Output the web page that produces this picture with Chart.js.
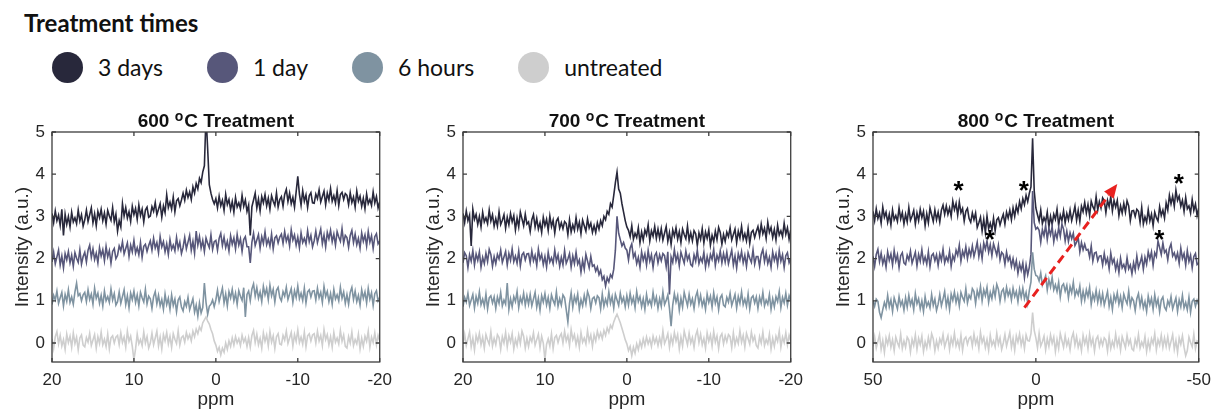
<!DOCTYPE html>
<html lang="en">
<head>
<meta charset="UTF-8">
<title>Treatment times</title>
<script src="https://cdn.jsdelivr.net/npm/chart.js"></script>
<style>
  html, body { margin: 0; padding: 0; background: #fff; width: 1219px; height: 417px; overflow: hidden; }
  .heading { position: absolute; left: 24px; top: 11px; font: bold 24px Lato, sans-serif; line-height: 24px; color: #111; }
  .legend { position: absolute; left: 52px; top: 52px; height: 31px; display: flex; align-items: center; font: 23px Lato, sans-serif; line-height: 23px; color: #111; }
  .legend .item { display: flex; align-items: center; margin-right: 44px; }
  .legend .dot { width: 31px; height: 31px; border-radius: 50%; margin-right: 15px; }
  .panel { position: absolute; top: 100px; width: 400px; height: 317px; }
</style>
</head>
<body>

<div class="heading">Treatment times</div>
<div class="legend" id="legend"></div>
<div class="panel" style="left:0px"><canvas id="c600"></canvas></div>
<div class="panel" style="left:411px"><canvas id="c700"></canvas></div>
<div class="panel" style="left:821px; width:398px"><canvas id="c800"></canvas></div>

<script>
const seriesNames = ['3 days', '1 day', '6 hours', 'untreated'];
const temperatures = [600, 700, 800];
const xTicksNarrow = [20, 10, 0, -10, -20];
const xTicksWide = [50, 0, -50];
const yTicks = [0, 1, 2, 3, 4, 5];

// 600 and 700 C: read every 0.2 ppm from 20 down to -20
const t600_3d = [
  3.07, 2.85, 3.13, 2.90, 3.03, 2.79, 3.17, 2.55, 3.05, 2.81, 3.00, 2.75, 3.10, 2.87, 2.97, 2.83, 3.15, 2.89, 3.04, 2.77,
  2.92, 3.15, 2.88, 3.04, 3.20, 2.85, 3.06, 2.78, 3.12, 2.97, 3.17, 2.90, 3.08, 2.82, 3.14, 3.01, 2.91, 3.21, 2.87, 3.05,
  2.65, 2.90, 2.75, 3.30, 3.01, 3.21, 2.96, 3.11, 2.88, 3.24, 3.04, 3.19, 2.93, 3.27, 3.02, 3.17, 2.87, 3.15, 3.22, 2.98,
  3.01, 3.23, 3.12, 3.33, 3.04, 3.17, 3.30, 2.98, 3.25, 3.09, 3.51, 3.21, 3.34, 3.17, 3.46, 3.11, 3.37, 3.42, 3.25, 3.39,
  3.55, 3.38, 3.62, 3.45, 3.58, 3.40, 3.70, 3.55, 3.78, 3.65, 3.90, 3.80, 4.05, 4.20, 5.40, 4.60, 3.75, 3.55, 3.40, 3.30,
  3.42, 3.20, 3.48, 3.25, 3.38, 3.14, 3.52, 3.28, 3.40, 3.16, 3.35, 3.10, 3.45, 3.22, 3.32, 3.18, 3.50, 3.24, 3.39, 3.12,
  3.27, 2.55, 3.23, 3.39, 3.55, 3.20, 3.41, 3.13, 3.47, 3.32, 3.52, 3.25, 3.43, 3.17, 3.49, 3.36, 3.26, 3.56, 3.22, 3.40,
  3.47, 3.24, 3.52, 3.64, 3.35, 3.55, 3.30, 3.45, 3.22, 3.58, 3.95, 3.53, 3.27, 3.61, 3.36, 3.51, 3.21, 3.49, 3.56, 3.32,
  3.31, 3.53, 3.42, 3.63, 3.34, 3.47, 3.60, 3.28, 3.55, 3.39, 3.66, 3.36, 3.49, 3.32, 3.61, 3.26, 3.52, 3.57, 3.40, 3.54,
  3.50, 3.28, 3.56, 3.33, 3.46, 3.22, 3.60, 3.36, 3.48, 3.24, 3.43, 3.18, 3.53, 3.30, 3.40, 3.26, 3.58, 3.32, 3.47, 3.20,
  3.35
];
const t600_1d = [
  1.92, 2.15, 1.88, 2.04, 2.20, 1.85, 2.06, 1.78, 2.12, 1.97, 2.17, 1.90, 2.08, 1.82, 2.14, 2.01, 1.91, 2.21, 1.87, 2.05,
  2.15, 1.92, 2.20, 2.32, 2.03, 2.23, 1.98, 2.13, 1.90, 2.26, 2.06, 2.21, 1.95, 2.29, 2.04, 2.19, 1.89, 2.17, 2.24, 2.00,
  2.08, 2.30, 2.19, 2.40, 2.11, 2.24, 2.37, 2.05, 2.32, 2.16, 2.43, 2.13, 2.26, 2.09, 2.38, 2.03, 2.29, 2.34, 2.17, 2.31,
  2.42, 2.20, 2.48, 2.25, 2.38, 2.14, 2.52, 2.28, 2.40, 2.16, 2.35, 2.10, 2.45, 2.22, 2.32, 2.18, 2.50, 2.24, 2.39, 2.12,
  2.27, 2.50, 2.23, 2.39, 2.55, 2.20, 2.41, 2.13, 2.65, 2.32, 2.52, 2.25, 2.43, 2.17, 2.49, 2.36, 2.26, 2.56, 2.22, 2.40,
  2.43, 2.20, 2.48, 2.60, 2.31, 2.51, 2.26, 2.41, 2.18, 2.54, 2.34, 2.49, 2.23, 2.57, 2.32, 2.47, 2.17, 2.45, 2.52, 2.28,
  2.28, 1.90, 2.39, 2.60, 2.31, 2.44, 2.57, 2.25, 2.52, 2.36, 2.63, 2.33, 2.46, 2.29, 2.58, 2.23, 2.49, 2.54, 2.37, 2.51,
  2.58, 2.36, 2.64, 2.41, 2.54, 2.30, 2.68, 2.44, 2.56, 2.32, 2.51, 2.26, 2.61, 2.38, 2.48, 2.34, 2.66, 2.40, 2.55, 2.28,
  2.42, 2.65, 2.38, 2.54, 2.70, 2.35, 2.56, 2.28, 2.62, 2.47, 2.67, 2.40, 2.58, 2.32, 2.64, 2.51, 2.41, 2.71, 2.37, 2.55,
  2.50, 2.27, 2.55, 2.67, 2.38, 2.58, 2.33, 2.48, 2.25, 2.61, 2.41, 2.56, 2.30, 2.64, 2.39, 2.54, 2.24, 2.52, 2.59, 2.35,
  2.42
];
const t600_6h = [
  0.91, 1.13, 1.02, 1.23, 0.94, 1.07, 1.20, 0.88, 1.15, 0.99, 1.26, 0.96, 1.09, 0.92, 1.21, 1.42, 1.12, 1.17, 1.00, 1.14,
  1.20, 0.98, 1.26, 1.03, 1.16, 0.92, 1.30, 1.06, 1.18, 0.94, 1.13, 0.88, 1.23, 1.00, 1.10, 0.96, 1.28, 1.02, 1.17, 0.90,
  0.98, 1.21, 0.94, 1.10, 1.26, 0.91, 1.12, 0.84, 1.18, 1.03, 1.23, 0.96, 1.14, 0.88, 1.20, 1.07, 0.97, 1.27, 0.93, 1.11,
  1.05, 0.82, 1.10, 1.22, 0.93, 1.13, 0.88, 1.03, 0.80, 1.16, 0.91, 1.06, 0.80, 1.14, 0.89, 1.04, 0.74, 1.02, 1.09, 0.85,
  0.76, 0.98, 0.87, 1.08, 0.79, 0.92, 1.05, 0.73, 0.90, 0.64, 0.95, 0.71, 0.84, 1.42, 0.96, 0.68, 0.87, 0.92, 1.02, 0.86,
  1.02, 1.25, 0.98, 1.14, 1.30, 0.95, 1.16, 0.88, 1.22, 1.07, 1.27, 1.00, 1.18, 0.92, 1.24, 1.11, 1.01, 1.31, 0.62, 1.15,
  1.23, 1.00, 1.28, 1.40, 1.11, 1.31, 1.06, 1.21, 0.98, 1.34, 1.14, 1.29, 1.03, 1.37, 1.12, 1.27, 0.97, 1.25, 1.32, 1.08,
  1.00, 1.22, 1.11, 1.32, 1.03, 1.16, 1.29, 0.97, 1.24, 1.08, 1.35, 1.05, 1.18, 1.01, 1.30, 0.95, 1.21, 1.26, 1.09, 1.23,
  1.24, 1.02, 1.30, 1.07, 1.20, 0.96, 1.34, 1.10, 1.22, 0.98, 1.17, 0.92, 1.27, 1.04, 1.14, 1.00, 1.32, 1.06, 1.21, 0.94,
  1.15, 0.92, 1.20, 1.32, 1.03, 1.23, 0.98, 1.13, 0.90, 1.26, 1.06, 1.21, 0.95, 1.29, 1.04, 1.19, 0.89, 1.17, 1.24, 1.00,
  1.08
];
const t600_un = [
  0.10, -0.13, 0.15, 0.27, -0.02, 0.18, -0.07, 0.08, -0.15, 0.21, 0.01, 0.16, -0.10, 0.24, -0.01, 0.14, -0.16, 0.12, 0.19, -0.05,
  -0.09, 0.13, 0.02, 0.23, -0.06, 0.07, 0.20, -0.12, 0.15, -0.01, 0.26, -0.04, 0.09, -0.08, 0.21, -0.14, 0.12, 0.17, 0.00, 0.14,
  0.18, -0.04, 0.24, 0.01, 0.14, -0.10, 0.28, 0.04, 0.16, -0.08, -0.40, -0.14, 0.21, -0.02, 0.08, -0.06, 0.26, 0.00, 0.15, -0.12,
  0.00, 0.23, -0.04, 0.12, 0.28, -0.07, 0.14, -0.14, 0.20, 0.05, 0.25, -0.02, 0.16, -0.10, 0.22, 0.09, -0.01, 0.29, -0.05, 0.13,
  0.17, 0.02, 0.25, 0.10, 0.20, 0.05, 0.28, 0.15, 0.33, 0.22, 0.38, 0.30, 0.48, 0.55, 0.62, 0.52, 0.45, 0.32, 0.22, 0.05,
  -0.05, -0.20, -0.10, -0.28, -0.12, -0.22, 0.00, -0.15, 0.05, -0.08, 0.12, -0.05, 0.15, 0.00, 0.10, -0.06, 0.18, 0.02, 0.12, -0.08,
  0.13, -0.10, 0.18, 0.30, 0.01, 0.21, -0.04, 0.11, -0.12, 0.24, 0.04, 0.19, -0.07, 0.27, 0.02, 0.17, -0.13, 0.15, 0.22, -0.02,
  -0.04, 0.18, 0.07, 0.28, -0.01, 0.12, 0.25, -0.07, 0.20, 0.04, 0.31, 0.01, 0.14, -0.03, 0.26, -0.09, 0.17, 0.22, 0.05, 0.19,
  0.22, 0.00, 0.28, 0.05, 0.18, -0.06, 0.32, 0.08, 0.20, -0.04, 0.15, -0.10, 0.25, 0.02, 0.12, -0.02, 0.30, 0.04, 0.19, -0.08,
  -0.12, 0.15, 0.00, 0.26, -0.06, 0.08, -0.02, 0.21, -0.14, 0.11, -0.08, 0.16, 0.04, 0.28, -0.10, 0.14, 0.01, 0.24, -0.04, 0.18,
  0.05
];

const t700_3d = [
  3.07, 2.85, 3.13, 2.90, 3.03, 2.30, 3.17, 2.93, 3.05, 2.81, 3.00, 2.75, 3.10, 2.87, 2.97, 2.83, 3.15, 2.89, 3.04, 2.77,
  2.95, 2.77, 3.11, 2.81, 2.91, 3.04, 2.72, 2.98, 2.80, 3.07, 2.87, 3.02, 2.68, 2.96, 2.75, 3.10, 2.94, 2.78, 3.05, 2.82,
  2.87, 2.64, 2.92, 3.04, 2.75, 2.95, 2.70, 2.85, 2.62, 2.98, 2.78, 2.93, 2.67, 3.01, 2.76, 2.91, 2.61, 2.89, 2.96, 2.72,
  2.85, 2.71, 2.88, 2.83, 2.57, 2.92, 2.63, 2.80, 2.67, 2.97, 2.70, 2.86, 2.59, 2.91, 2.78, 2.65, 2.94, 2.73, 2.84, 2.62,
  2.78, 2.62, 2.85, 2.70, 2.90, 2.78, 3.00, 2.92, 3.12, 3.05, 3.30, 3.22, 3.50, 3.80, 4.05, 3.65, 3.55, 3.30, 3.10, 2.90,
  2.75, 2.67, 2.52, 2.78, 2.46, 2.60, 2.50, 2.73, 2.38, 2.63, 2.44, 2.68, 2.56, 2.80, 2.42, 2.66, 2.53, 2.76, 2.48, 2.70,
  2.48, 2.71, 2.44, 2.60, 2.76, 2.41, 2.62, 2.34, 2.68, 2.53, 2.73, 2.46, 2.64, 2.38, 2.70, 2.57, 2.47, 2.77, 2.43, 2.61,
  2.42, 2.66, 2.59, 2.31, 2.61, 2.46, 2.71, 2.37, 2.63, 2.48, 2.68, 2.32, 2.55, 2.40, 2.65, 2.45, 2.74, 2.62, 2.34, 2.57,
  2.41, 2.63, 2.52, 2.73, 2.44, 2.57, 2.70, 2.38, 2.65, 2.49, 2.76, 2.46, 2.59, 2.42, 2.71, 2.36, 2.62, 2.67, 2.50, 2.64,
  2.76, 2.54, 2.82, 2.59, 2.72, 2.48, 2.86, 2.62, 2.74, 2.50, 2.69, 2.44, 2.79, 2.56, 2.66, 2.52, 2.84, 2.58, 2.73, 2.46,
  2.68
];
const t700_1d = [
  1.90, 2.14, 2.07, 1.79, 2.09, 1.94, 2.19, 1.85, 2.11, 1.96, 2.16, 1.80, 2.03, 1.88, 2.13, 1.93, 2.22, 2.10, 1.82, 2.05,
  1.88, 2.10, 1.99, 2.20, 1.91, 2.04, 2.17, 1.85, 2.12, 1.96, 2.23, 1.93, 2.06, 1.89, 2.18, 1.83, 2.09, 2.14, 1.97, 2.11,
  2.12, 1.90, 2.18, 1.95, 2.08, 1.84, 2.22, 1.98, 2.10, 1.86, 2.05, 1.80, 2.15, 1.92, 2.02, 1.88, 2.20, 1.94, 2.09, 1.82,
  2.03, 1.85, 2.19, 1.89, 1.99, 2.12, 1.80, 2.06, 1.88, 2.15, 1.87, 1.97, 1.68, 1.96, 1.75, 2.10, 1.94, 1.78, 2.05, 1.82,
  1.85, 1.70, 1.80, 1.62, 1.72, 1.50, 1.58, 1.35, 1.55, 1.45, 1.62, 1.55, 1.75, 2.20, 3.00, 2.60, 2.45, 2.30, 2.38, 2.25,
  2.20, 1.97, 2.25, 2.35, 2.03, 2.13, 1.88, 2.03, 1.80, 2.16, 1.96, 2.11, 1.85, 2.19, 1.94, 2.09, 1.79, 2.07, 2.14, 1.90,
  2.09, 1.95, 2.12, 2.07, 1.81, 2.16, 1.15, 2.04, 1.91, 2.21, 1.94, 2.10, 1.83, 2.15, 2.02, 1.89, 2.18, 1.97, 2.08, 1.86,
  1.82, 2.09, 1.94, 2.20, 1.88, 2.02, 1.92, 2.15, 1.80, 2.05, 1.86, 2.10, 1.98, 2.22, 1.84, 2.08, 1.95, 2.18, 1.90, 2.12,
  1.92, 2.15, 1.88, 2.04, 2.20, 1.85, 2.06, 1.78, 2.12, 1.97, 2.17, 1.90, 2.08, 1.82, 2.14, 2.01, 1.91, 2.21, 1.87, 2.05,
  2.05, 1.82, 2.10, 2.22, 1.93, 2.13, 1.88, 2.03, 1.80, 2.16, 1.96, 2.11, 1.85, 2.19, 1.94, 2.09, 1.79, 2.07, 2.14, 1.90,
  2.00
];
const t700_6h = [
  0.86, 1.08, 0.97, 1.18, 0.89, 1.02, 1.15, 0.83, 1.10, 0.94, 1.21, 0.91, 1.04, 0.87, 1.16, 0.81, 1.07, 1.12, 0.95, 1.09,
  0.82, 1.09, 0.94, 1.20, 0.88, 1.02, 0.92, 1.42, 0.80, 1.05, 0.86, 1.10, 0.98, 1.22, 0.84, 1.08, 0.95, 1.18, 0.90, 1.12,
  0.92, 1.15, 0.88, 1.04, 1.20, 0.85, 1.06, 0.78, 1.12, 0.97, 1.17, 0.90, 1.08, 0.82, 1.14, 1.01, 0.91, 1.21, 0.87, 1.05,
  0.90, 1.14, 1.07, 0.79, 0.50, 0.94, 1.19, 0.85, 1.11, 0.96, 1.16, 0.80, 1.03, 0.88, 1.13, 0.93, 1.22, 1.10, 0.82, 1.05,
  1.09, 0.95, 1.12, 1.07, 0.81, 1.16, 0.87, 1.04, 0.91, 1.21, 0.94, 1.10, 0.83, 1.15, 1.02, 0.89, 1.18, 0.97, 1.08, 0.86,
  1.12, 0.90, 1.18, 0.95, 1.08, 0.84, 1.22, 0.98, 1.10, 0.86, 1.05, 0.80, 1.15, 0.92, 1.02, 0.88, 1.20, 0.94, 1.09, 0.82,
  1.05, 0.87, 1.21, 0.91, 1.01, 1.14, 0.82, 0.40, 0.90, 1.17, 0.97, 1.12, 0.78, 1.06, 0.85, 1.20, 1.04, 0.88, 1.15, 0.92,
  1.05, 0.82, 1.10, 1.22, 0.93, 1.13, 0.88, 1.03, 0.80, 1.16, 0.96, 1.11, 0.85, 1.19, 0.94, 1.09, 0.79, 1.07, 1.14, 0.90,
  0.86, 1.08, 0.97, 1.18, 0.89, 1.02, 1.15, 0.83, 1.10, 0.94, 1.21, 0.91, 1.04, 0.87, 1.16, 0.81, 1.07, 1.12, 0.95, 1.09,
  0.82, 1.09, 0.94, 1.20, 0.88, 1.02, 0.92, 1.15, 0.80, 1.05, 0.86, 1.10, 0.98, 1.22, 0.84, 1.08, 0.95, 1.18, 0.90, 1.12,
  1.00
];
const t700_un = [
  -0.02, 0.21, -0.06, 0.10, 0.26, -0.09, 0.12, -0.16, 0.18, 0.03, 0.23, -0.04, 0.14, -0.12, 0.20, 0.07, -0.03, 0.27, -0.07, 0.11,
  -0.04, 0.20, 0.13, -0.15, 0.15, 0.00, 0.25, -0.09, 0.17, 0.02, 0.22, -0.14, 0.09, -0.06, 0.19, -0.01, 0.28, 0.16, -0.12, 0.11,
  -0.08, 0.14, 0.03, 0.24, -0.05, 0.08, 0.21, -0.11, 0.16, 0.00, -0.40, -0.03, 0.10, -0.07, 0.22, -0.13, 0.13, 0.18, 0.01, 0.15,
  0.22, 0.00, 0.28, 0.05, 0.18, -0.06, 0.32, 0.08, 0.20, -0.04, 0.15, -0.10, 0.25, 0.02, 0.12, -0.02, 0.30, 0.04, 0.19, -0.08,
  0.20, 0.05, 0.28, 0.12, 0.24, 0.10, 0.30, 0.18, 0.36, 0.25, 0.42, 0.35, 0.50, 0.60, 0.68, 0.58, 0.48, 0.35, 0.22, 0.08,
  -0.02, -0.18, -0.08, -0.30, -0.10, -0.24, -0.02, -0.16, 0.04, -0.10, 0.10, -0.06, 0.14, -0.02, 0.10, -0.08, 0.16, 0.00, 0.12, -0.06,
  0.13, -0.05, 0.29, -0.01, 0.09, 0.22, -0.10, 0.16, -0.02, 0.25, 0.05, 0.20, -0.14, 0.14, -0.07, 0.28, 0.12, -0.04, 0.23, 0.00,
  0.13, -0.10, 0.18, 0.30, 0.01, 0.21, -0.04, 0.11, -0.12, 0.24, 0.04, 0.19, -0.07, 0.27, 0.02, 0.17, -0.13, 0.15, 0.22, -0.02,
  0.17, 0.03, 0.20, 0.15, -0.11, 0.24, -0.05, 0.12, -0.01, 0.29, 0.02, 0.18, -0.09, 0.23, 0.10, -0.03, 0.26, 0.05, 0.16, -0.06,
  -0.12, 0.15, 0.00, 0.26, -0.06, 0.08, -0.02, 0.21, -0.14, 0.11, -0.08, 0.16, 0.04, 0.28, -0.10, 0.14, 0.01, 0.24, -0.04, 0.18,
  0.04
];

// 800 C: read every 0.5 ppm from 50 down to -50
const t800_3d = [
  3.12, 2.90, 3.18, 2.95, 3.08, 2.84, 3.22, 2.98, 3.10, 2.86, 3.05, 2.80, 3.15, 2.92, 3.02, 2.88, 3.20, 2.94, 3.09, 2.82,
  3.05, 2.87, 3.21, 2.91, 3.01, 3.14, 2.82, 3.08, 2.90, 3.17, 2.97, 3.12, 2.78, 3.06, 2.85, 3.20, 3.04, 2.88, 3.15, 2.92,
  3.10, 2.87, 3.15, 3.27, 3.05, 3.25, 3.05, 3.20, 3.00, 3.36, 3.16, 3.31, 3.03, 3.34, 3.09, 3.19, 2.89, 3.12, 3.19, 2.95,
  2.86, 3.08, 2.92, 3.08, 2.74, 2.85, 2.98, 2.66, 2.93, 2.62, 3.01, 2.71, 2.84, 2.67, 2.96, 2.66, 2.92, 2.97, 2.80, 2.94,
  3.05, 2.82, 3.10, 2.96, 3.15, 2.92, 3.20, 3.00, 3.25, 3.10, 3.35, 3.18, 3.42, 3.28, 3.50, 3.35, 3.55, 3.70, 4.85, 3.60,
  3.20, 3.04, 2.89, 3.15, 2.83, 2.97, 2.87, 3.10, 2.75, 3.00, 2.81, 3.05, 2.93, 3.17, 2.79, 3.03, 2.90, 3.13, 2.85, 3.07,
  2.92, 3.15, 2.90, 3.06, 3.24, 2.91, 3.14, 2.88, 3.24, 3.11, 3.33, 3.08, 3.28, 3.02, 3.36, 3.23, 3.15, 3.47, 3.15, 3.35,
  3.20, 3.44, 3.37, 3.09, 3.38, 3.23, 3.47, 3.13, 3.38, 3.22, 3.38, 3.02, 3.25, 3.08, 3.31, 3.10, 3.37, 3.25, 2.90, 3.13,
  3.14, 3.00, 3.17, 3.12, 2.86, 3.21, 2.82, 2.99, 2.86, 3.16, 2.89, 3.05, 2.78, 3.10, 2.97, 2.89, 3.23, 3.02, 3.15, 2.96,
  3.32, 3.15, 3.50, 3.30, 3.48, 3.24, 3.62, 3.38, 3.48, 3.24, 3.38, 3.12, 3.45, 3.18, 3.25, 3.08, 3.40, 3.14, 3.29, 3.02,
  3.20
];
const t800_1d = [
  2.05, 1.82, 2.10, 2.22, 1.93, 2.13, 1.88, 2.03, 1.80, 2.16, 1.96, 2.11, 1.85, 2.19, 1.94, 2.09, 1.79, 2.07, 2.14, 1.90,
  1.86, 2.08, 1.97, 2.18, 1.89, 2.02, 2.15, 1.83, 2.10, 1.94, 2.21, 1.91, 2.04, 1.87, 2.16, 1.81, 2.07, 2.12, 1.95, 2.09,
  1.84, 2.11, 1.96, 2.22, 1.90, 2.04, 1.94, 2.17, 1.82, 2.07, 1.96, 2.20, 2.08, 2.32, 1.94, 2.18, 2.05, 2.28, 2.00, 2.22,
  2.07, 2.30, 2.05, 2.21, 2.39, 2.05, 2.28, 2.00, 2.37, 2.22, 2.42, 2.15, 2.33, 2.07, 2.35, 2.22, 2.08, 2.31, 1.97, 2.15,
  2.10, 1.87, 2.15, 1.95, 2.05, 1.82, 2.00, 1.78, 1.95, 1.65, 1.88, 1.72, 1.90, 1.55, 1.85, 1.62, 1.80, 2.10, 3.60, 2.85,
  2.70, 2.74, 2.67, 2.39, 2.69, 2.54, 2.79, 2.45, 2.71, 2.56, 2.76, 2.40, 2.63, 2.48, 2.73, 2.53, 2.82, 2.70, 2.42, 2.65,
  2.41, 2.61, 2.47, 2.60, 2.31, 2.39, 2.50, 2.16, 2.38, 2.21, 2.34, 2.20, 2.22, 2.04, 2.30, 1.94, 2.13, 2.15, 1.95, 2.06,
  2.07, 1.85, 2.12, 1.89, 2.01, 1.76, 2.13, 1.89, 1.99, 1.74, 1.92, 1.67, 2.01, 1.78, 1.86, 1.72, 2.02, 1.76, 1.85, 1.64,
  1.90, 1.72, 2.06, 1.78, 1.90, 2.05, 1.75, 2.03, 1.87, 2.16, 1.99, 2.16, 1.84, 2.14, 2.05, 2.42, 2.26, 2.10, 2.37, 2.14,
  2.20, 1.97, 2.24, 2.35, 2.06, 2.14, 1.99, 2.13, 1.89, 2.25, 2.00, 2.12, 1.85, 2.19, 1.93, 2.08, 1.78, 2.05, 2.12, 1.86,
  1.90
];
const t800_6h = [
  1.01, 0.87, 1.04, 0.99, 0.73, 0.60, 0.79, 0.96, 0.83, 1.13, 0.86, 1.02, 0.75, 1.07, 0.94, 0.81, 1.10, 0.89, 1.00, 0.78,
  1.07, 0.85, 1.13, 0.90, 1.03, 0.79, 1.17, 0.93, 1.05, 0.81, 1.00, 0.75, 1.10, 0.87, 0.97, 0.83, 1.15, 0.89, 1.04, 0.77,
  0.92, 1.15, 0.88, 1.04, 1.22, 0.87, 1.08, 0.80, 1.16, 1.01, 1.21, 0.96, 1.14, 0.88, 1.20, 1.08, 0.99, 1.29, 0.95, 1.13,
  1.05, 1.29, 1.22, 0.94, 1.24, 1.09, 1.34, 1.00, 1.26, 1.12, 1.32, 0.97, 1.20, 1.05, 1.30, 1.10, 1.39, 1.27, 0.99, 1.22,
  1.28, 1.05, 1.32, 1.12, 1.25, 1.02, 1.30, 1.10, 1.22, 0.98, 1.28, 1.08, 1.30, 1.05, 1.20, 0.95, 1.25, 1.45, 2.15, 1.75,
  1.60, 1.58, 1.47, 1.66, 1.37, 1.48, 1.59, 1.26, 1.50, 1.33, 1.56, 1.26, 1.38, 1.22, 1.44, 1.09, 1.35, 1.40, 1.23, 1.37,
  1.07, 1.34, 1.19, 1.44, 1.11, 1.25, 1.14, 1.35, 0.99, 1.23, 1.02, 1.26, 1.10, 1.32, 0.92, 1.16, 1.02, 1.25, 0.97, 1.19,
  0.94, 1.17, 0.90, 1.06, 1.22, 0.87, 1.08, 0.80, 1.14, 0.99, 1.19, 0.92, 1.10, 0.84, 1.16, 1.03, 0.93, 1.23, 0.89, 1.07,
  1.00, 0.77, 1.05, 1.17, 0.88, 1.08, 0.83, 0.98, 0.75, 1.11, 0.91, 1.06, 0.80, 1.14, 0.89, 1.04, 0.74, 1.02, 1.09, 0.85,
  0.78, 1.00, 0.89, 1.10, 0.81, 0.94, 1.07, 0.75, 1.02, 0.86, 1.13, 0.83, 0.96, 0.79, 1.08, 0.73, 0.99, 1.04, 0.87, 1.01,
  0.90
];
const t800_un = [
  -0.08, 0.15, -0.12, 0.04, 0.20, -0.15, 0.06, -0.22, 0.12, -0.03, 0.17, -0.10, 0.08, -0.18, 0.14, 0.01, -0.09, 0.21, -0.13, 0.05,
  -0.10, 0.14, 0.07, -0.21, 0.09, -0.06, 0.19, -0.15, 0.11, -0.04, 0.16, -0.20, 0.03, -0.12, 0.13, -0.07, 0.22, 0.10, -0.18, 0.05,
  -0.12, 0.10, -0.01, 0.20, -0.09, 0.04, 0.17, -0.15, 0.12, -0.04, 0.23, -0.07, 0.06, -0.11, 0.18, -0.17, 0.09, 0.14, -0.03, 0.11,
  0.15, -0.07, 0.21, -0.02, 0.11, -0.13, 0.25, 0.01, 0.13, -0.11, 0.08, -0.17, 0.18, -0.05, 0.05, -0.09, 0.23, -0.03, 0.12, -0.15,
  0.00, 0.20, -0.07, 0.09, 0.25, -0.10, 0.11, -0.17, 0.17, 0.02, 0.22, -0.05, 0.13, -0.13, 0.19, 0.06, 0.05, 0.22, 0.72, 0.30,
  0.12, -0.11, 0.23, -0.07, 0.03, 0.16, -0.16, 0.10, -0.08, 0.19, -0.01, 0.14, -0.20, 0.08, -0.13, 0.22, 0.06, -0.10, 0.17, -0.06,
  0.07, -0.16, 0.12, 0.24, -0.05, 0.15, -0.10, 0.05, -0.18, 0.18, -0.02, 0.13, -0.13, 0.21, -0.04, 0.11, -0.19, 0.09, 0.16, -0.08,
  0.09, -0.05, 0.12, 0.07, -0.19, 0.16, -0.13, 0.04, -0.09, 0.21, -0.06, 0.10, -0.17, 0.15, 0.02, -0.11, 0.18, -0.03, 0.08, -0.14,
  -0.18, 0.09, -0.06, 0.20, -0.12, 0.02, -0.08, 0.15, -0.20, 0.05, -0.14, 0.10, -0.02, 0.22, -0.16, 0.08, -0.05, 0.18, -0.10, 0.12,
  -0.08, 0.15, -0.12, 0.04, 0.20, -0.15, 0.06, -0.22, 0.12, -0.03, 0.17, -0.10, -0.30, -0.18, 0.14, 0.01, -0.09, 0.21, -0.13, 0.05,
  0.02
];

// marks on the 800 C panel
const starPpm = [23.7, 3.7, 14.1, -37.9, -43.9];
const starIntensity = [3.71, 3.71, 2.53, 2.55, 3.87];
const arrowPpm = [3.5, -25];
const arrowIntensity = [0.84, 3.77];

const lineColors = ['#28283b', '#57577a', '#7f93a1', '#cecece'];
const ink = '#262626';
const font = '"Liberation Sans", Arial, sans-serif';

function ppmGrid(from, to, step) {
  const out = [];
  const n = Math.round((from - to) / step);
  for (let i = 0; i <= n; i++) out.push(+(from - i * step).toFixed(2));
  return out;
}

// legend
const legend = document.getElementById('legend');
seriesNames.forEach((name, i) => {
  const item = document.createElement('div');
  item.className = 'item';
  item.innerHTML = '<span class="dot" style="background:' + lineColors[i] + '"></span><span>' + name + '</span>';
  legend.appendChild(item);
});

const frame = {
  id: 'frame',
  afterDatasetsDraw(chart, args, o) {
    const {ctx, chartArea: a, scales: {x, y}} = chart;
    ctx.save();
    ctx.strokeStyle = '#3c3c3c';
    ctx.lineWidth = 1.3;
    ctx.strokeRect(a.left, a.top, a.right - a.left, a.bottom - a.top);
    ctx.beginPath();
    x.ticks.forEach(t => {
      const p = x.getPixelForValue(t.value);
      ctx.moveTo(p, a.bottom); ctx.lineTo(p, a.bottom - 4);
      ctx.moveTo(p, a.top); ctx.lineTo(p, a.top + 4);
    });
    y.ticks.forEach(t => {
      const p = y.getPixelForValue(t.value);
      ctx.moveTo(a.left, p); ctx.lineTo(a.left + 4, p);
      ctx.moveTo(a.right, p); ctx.lineTo(a.right - 4, p);
    });
    ctx.stroke();

    // title with a raised "o"
    const big = 'bold 19px ' + font, small = 'bold 14px ' + font;
    const s1 = o.temp + ' ', s2 = 'o', s3 = 'C Treatment';
    ctx.font = big;
    const w1 = ctx.measureText(s1).width, w3 = ctx.measureText(s3).width;
    ctx.font = small;
    const w2 = ctx.measureText(s2).width + 1;
    const tx = (a.left + a.right) / 2 - (w1 + w2 + w3) / 2;
    const by = a.top - 5.5;
    ctx.fillStyle = '#111';
    ctx.textAlign = 'left';
    ctx.textBaseline = 'alphabetic';
    ctx.font = big; ctx.fillText(s1, tx, by);
    ctx.font = small; ctx.fillText(s2, tx + w1, by - 6);
    ctx.font = big; ctx.fillText(s3, tx + w1 + w2, by);

    if (o.marks) {
      ctx.fillStyle = '#000';
      ctx.font = 'bold 26px ' + font;
      ctx.textAlign = 'center';
      ctx.textBaseline = 'middle';
      starPpm.forEach((p, i) => {
        ctx.fillText('*', x.getPixelForValue(p), y.getPixelForValue(starIntensity[i]) + 5);
      });
      const x0 = x.getPixelForValue(arrowPpm[0]), y0 = y.getPixelForValue(arrowIntensity[0]);
      const x1 = x.getPixelForValue(arrowPpm[1]), y1 = y.getPixelForValue(arrowIntensity[1]);
      const ang = Math.atan2(y1 - y0, x1 - x0), head = 14;
      const hx = x1 - head * Math.cos(ang), hy = y1 - head * Math.sin(ang);
      ctx.strokeStyle = '#e8211f';
      ctx.fillStyle = '#e8211f';
      ctx.lineWidth = 3;
      ctx.setLineDash([9, 5]);
      ctx.beginPath();
      ctx.moveTo(x0, y0);
      ctx.lineTo(hx, hy);
      ctx.stroke();
      ctx.setLineDash([]);
      ctx.beginPath();
      ctx.moveTo(x1, y1);
      ctx.lineTo(hx + 6 * Math.sin(ang), hy - 6 * Math.cos(ang));
      ctx.lineTo(hx - 6 * Math.sin(ang), hy + 6 * Math.cos(ang));
      ctx.closePath();
      ctx.fill();
    }
    ctx.restore();
  }
};

function makePanel(id, temp, ppm, series, xTicks, marks, rightPad) {
  const datasets = series.map((vals, i) => ({
    label: seriesNames[i],
    data: ppm.map((p, k) => ({x: p, y: vals[k]})),
    borderColor: lineColors[i],
    borderWidth: 1.6,
    pointRadius: 0,
    tension: 0,
    clip: 0,
    order: series.length - 1 - i
  }));
  return new Chart(document.getElementById(id), {
    type: 'line',
    data: {datasets},
    plugins: [frame],
    options: {
      responsive: true,
      maintainAspectRatio: false,
      animation: false,
      events: [],
      layout: {padding: {top: 32, right: rightPad, left: 0, bottom: 0}},
      plugins: {legend: {display: false}, tooltip: {enabled: false}, frame: {temp, marks}},
      scales: {
        x: {
          type: 'linear',
          reverse: true,
          min: Math.min(...xTicks),
          max: Math.max(...xTicks),
          afterBuildTicks: s => { s.ticks = xTicks.map(v => ({value: v})); },
          afterFit: s => { s.height = 55; },
          grid: {display: false, drawTicks: false},
          border: {display: false},
          ticks: {color: ink, padding: 8, maxRotation: 0, font: {family: font, size: 17}},
          title: {display: true, text: 'ppm', color: ink, padding: {top: 0, bottom: 6}, font: {family: font, size: 19}}
        },
        y: {
          type: 'linear',
          min: -0.45,
          max: 5,
          afterBuildTicks: s => { s.ticks = yTicks.map(v => ({value: v})); },
          afterFit: s => { s.width = 52; },
          grid: {display: false, drawTicks: false},
          border: {display: false},
          ticks: {color: ink, padding: 7, font: {family: font, size: 17}},
          title: {display: true, text: 'Intensity (a.u.)', color: ink, padding: {top: 11, bottom: 0}, font: {family: font, size: 19}}
        }
      }
    }
  });
}

const narrow = ppmGrid(20, -20, 0.2);
const wide = ppmGrid(50, -50, 0.5);
makePanel('c600', temperatures[0], narrow, [t600_3d, t600_1d, t600_6h, t600_un], xTicksNarrow, false, 18);
makePanel('c700', temperatures[1], narrow, [t700_3d, t700_1d, t700_6h, t700_un], xTicksNarrow, false, 19);
makePanel('c800', temperatures[2], wide, [t800_3d, t800_1d, t800_6h, t800_un], xTicksWide, true, 16);
</script>
</body>
</html>
